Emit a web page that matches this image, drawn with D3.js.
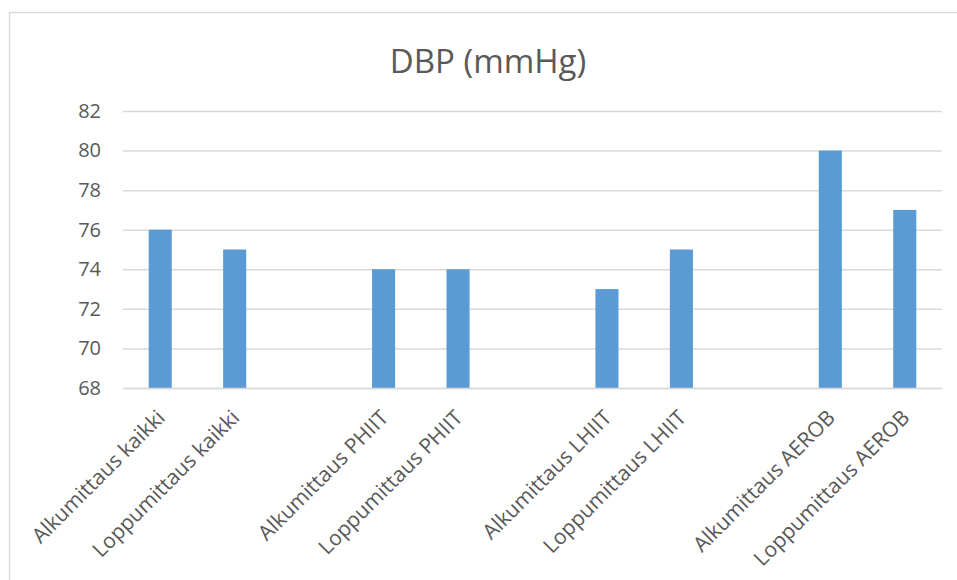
<!DOCTYPE html>
<html>
<head>
<meta charset="utf-8">
<script src="https://cdn.jsdelivr.net/npm/d3@7"></script>
<style>
  html, body { margin: 0; padding: 0; background: #fff; }
  svg { display: block; }
</style>
</head>
<body>
<svg id="chart" width="957" height="580"></svg>
<script>
const categories = [
  "Alkumittaus kaikki", "Loppumittaus kaikki", "",
  "Alkumittaus PHIIT", "Loppumittaus PHIIT", "",
  "Alkumittaus LHIIT", "Loppumittaus LHIIT", "",
  "Alkumittaus AEROB", "Loppumittaus AEROB"
];
const values = [76, 75, null, 74, 74, null, 73, 75, null, 80, 77];
const yTicks = [68, 70, 72, 74, 76, 78, 80, 82];
const title = "DBP (mmHg)";

const svg = d3.select("#chart");
const font = "'Open Sans', 'DejaVu Sans', sans-serif";

// chart area border
svg.append("rect")
  .attr("x", 9.5).attr("y", 12.5)
  .attr("width", 1000).attr("height", 700)
  .attr("fill", "#fff")
  .attr("stroke", "#D9D9D9").attr("stroke-width", 1.3);

const x = d3.scaleBand()
  .domain(d3.range(categories.length))
  .range([123, 942])
  .paddingInner(0.69)
  .paddingOuter(0.345);

const y = d3.scaleLinear().domain([68, 82]).range([388, 111]);

// gridlines
const yAxis = d3.axisLeft(y).tickValues(yTicks).tickSize(-(942 - 123)).tickPadding(22);
const gy = svg.append("g").attr("transform", "translate(123,0)").call(yAxis);
gy.select(".domain").remove();
gy.selectAll(".tick line").attr("stroke", "#D9D9D9").attr("stroke-width", 1.5);
gy.selectAll(".tick text")
  .attr("fill", "#595959")
  .style("font-family", font)
  .style("font-size", "20px");

// bars
svg.append("g").selectAll("rect")
  .data(values.map((v, i) => ({ v, i })).filter(d => d.v !== null))
  .join("rect")
  .attr("x", d => x(d.i))
  .attr("width", x.bandwidth())
  .attr("y", d => y(d.v))
  .attr("height", d => y(68) - y(d.v))
  .attr("fill", "#5B9BD5");

// x axis labels
const xAxis = d3.axisBottom(x).tickSize(0).tickFormat(i => categories[i]);
const gx = svg.append("g").attr("transform", "translate(0,388)").call(xAxis);
gx.select(".domain").attr("stroke", "#D9D9D9").attr("stroke-width", 1.5);
gx.selectAll(".tick text")
  .attr("fill", "#595959")
  .style("font-family", font)
  .style("font-size", "21px")
  .attr("text-anchor", "end")
  .attr("y", 0).attr("dy", 0)
  .attr("transform", "translate(6,31) rotate(-45)");

// title
svg.append("text")
  .attr("x", 488).attr("y", 73)
  .attr("text-anchor", "middle")
  .attr("fill", "#595959")
  .style("font-family", font)
  .style("font-size", "33px")
  .text(title);
</script>
</body>
</html>
